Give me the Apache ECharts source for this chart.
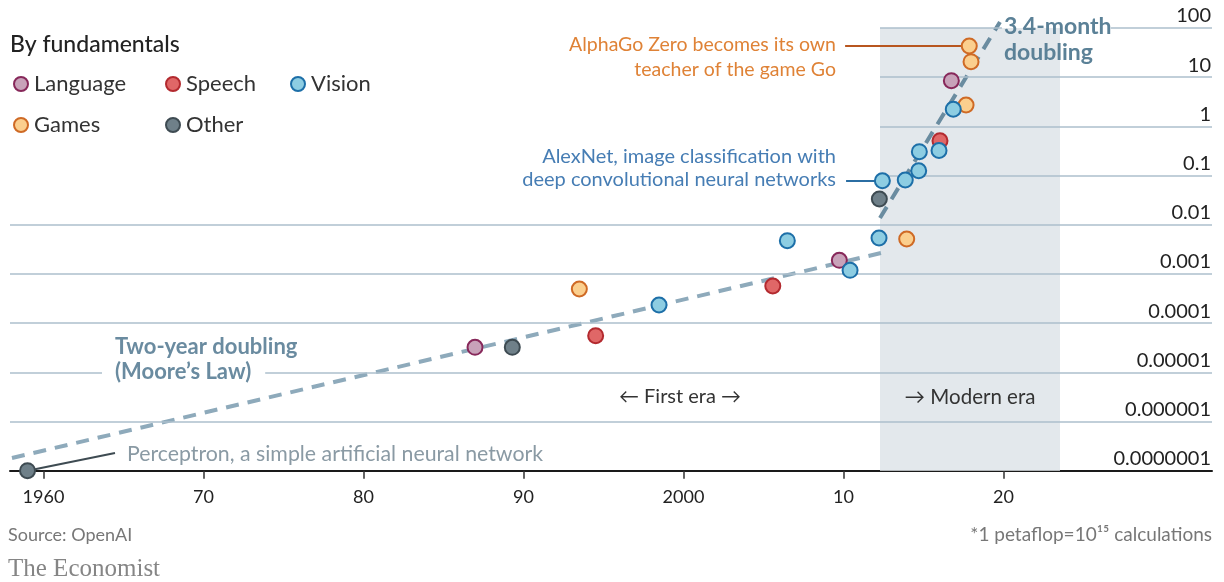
<!DOCTYPE html>
<html><head><meta charset="utf-8">
<script src="https://cdn.jsdelivr.net/npm/echarts@6/dist/echarts.min.js"></script>
<style>html,body{margin:0;padding:0;background:#fff}#c{width:1224px;height:582px}</style>
</head><body><div id="c"></div>
<script>
// ---------- data ----------
const categories = ['Language', 'Speech', 'Vision', 'Games', 'Other'];
const languageYear = [1986.97, 2009.74, 2016.74];
const languagePF   = [3.22e-5, 1.89e-3, 8.45];
const speechYear   = [1994.51, 2005.58, 2016.03];
const speechPF     = [5.55e-5, 5.67e-4, 0.509];
const visionYear   = [1998.47, 2006.49, 2010.41, 2012.22, 2012.43, 2013.86, 2014.70, 2014.74, 2015.97, 2016.86];
const visionPF     = [2.33e-4, 4.73e-3, 1.18e-3, 5.37e-3, 0.0783, 0.0811, 0.125, 0.305, 0.322, 2.22];
const gamesYear    = [1993.49, 2013.95, 2017.66, 2017.97, 2017.86];
const gamesPF      = [4.93e-4, 5.12e-3, 2.71, 20.6, 42.9];
const otherYear    = [1959.0, 1989.30, 2012.24];
const otherPF      = [1.0e-7, 3.22e-5, 0.0333];
const mooreYear    = [1958.03, 2012.34];
const moorePF      = [1.81e-7, 2.66e-3];
const steepYear    = [2012.28, 2019.78];
const steepPF      = [0.01368, 131.8];
const modernEra    = [2012.28, 2023.53];
const xTickValues  = [1960, 1970, 1980, 1990, 2000, 2010, 2020];
const xTickLabels  = ['1960', '70', '80', '90', '2000', '10', '20'];
const yTickValues  = [1e-7, 1e-6, 1e-5, 1e-4, 1e-3, 1e-2, 1e-1, 1, 10, 100];
const yTickLabels  = ['0.0000001', '0.000001', '0.00001', '0.0001', '0.001', '0.01', '0.1', '1', '10', '100'];

// ---------- styling ----------
const FONT = 'Lato, "Open Sans", sans-serif';
const X_MIN = 1957.906, X_MAX = 2033.031;
const Y_MIN = 1e-7, Y_MAX = Math.pow(10, 2.567);
const colors = {
  Language: { fill: '#c8a2b9', border: '#87285a' },
  Speech:   { fill: '#e06767', border: '#b32a2f' },
  Vision:   { fill: '#8dcde2', border: '#1d6fa8' },
  Games:    { fill: '#fbcf8e', border: '#cf6a25' },
  Other:    { fill: '#6f8089', border: '#3e4b52' }
};
const pts = {
  Language: [languageYear, languagePF],
  Speech: [speechYear, speechPF],
  Vision: [visionYear, visionPF],
  Games: [gamesYear, gamesPF],
  Other: [otherYear, otherPF]
};
const zip = (a, b) => a.map((v, i) => [v, b[i]]);

const gridColor = '#adbfcc';
function hline(y, x0, x1) {
  return [{ coord: [x0, y] }, { coord: [x1, y] }];
}
const gridLines = [];
yTickValues.forEach(v => {
  if (v === 1e-7) return;
  if (v <= 1e-2) gridLines.push(hline(v, X_MIN, X_MAX));
  else if (v < 100) gridLines.push(hline(v, modernEra[0], X_MAX));
  else {
    gridLines.push(hline(v, modernEra[0], 2019.9));
    gridLines.push(hline(v, 2026.7, X_MAX));
  }
});

const drawOrder = ['Language', 'Speech', 'Games', 'Other', 'Vision'];
const scatterSeries = drawOrder.map((name, i) => ({
  name, type: 'scatter', symbol: 'circle', symbolSize: 15, z: 10 + i,
  itemStyle: { color: colors[name].fill, borderColor: colors[name].border, borderWidth: 2, opacity: 1 },
  emphasis: { disabled: true },
  data: zip(pts[name][0], pts[name][1])
}));

const legendPos = {
  Language: [13, 73], Speech: [165, 73], Vision: [290, 73],
  Games: [13, 114], Other: [165, 114]
};
const legends = categories.map(name => ({
  data: [name], left: legendPos[name][0], top: legendPos[name][1], padding: 0,
  icon: 'circle', itemWidth: 14, itemHeight: 14, itemGap: 0, selectedMode: false,
  textStyle: { fontFamily: FONT, fontSize: 22, color: '#333', padding: [0, 0, 0, 1] }
}));

const chart = echarts.init(document.getElementById('c'), null, { renderer: 'canvas' });
chart.setOption({
  animation: false,
  backgroundColor: '#fff',
  grid: { left: 10, right: 12, top: 0, bottom: 111.3 },
  legend: legends,
  xAxis: {
    type: 'value', min: X_MIN, max: X_MAX,
    axisLine: { show: true, onZero: false, lineStyle: { color: '#1a1a1a', width: 2 } },
    axisTick: { show: true, customValues: xTickValues, length: 8, lineStyle: { color: '#333', width: 1.5 } },
    axisLabel: {
      customValues: xTickValues, margin: 17, fontFamily: FONT, fontSize: 18, color: '#222',
      formatter: v => xTickLabels[xTickValues.indexOf(Math.round(v))] || ''
    },
    splitLine: { show: false }
  },
  yAxis: {
    type: 'log', logBase: 10, min: Y_MIN, max: Y_MAX, position: 'right',
    axisLine: { show: false }, axisTick: { show: false }, splitLine: { show: false },
    axisLabel: {
      customValues: yTickValues, inside: true, margin: 1, fontFamily: FONT, fontSize: 20, color: '#222',
      verticalAlign: 'bottom', lineHeight: 20, padding: [0, 0, 2, 0],
      formatter: v => { const i = Math.round(Math.log10(v)) + 7; return yTickLabels[i] || ''; }
    }
  },
  series: [
    {
      name: 'bg', type: 'scatter', data: [], z: 1, silent: true,
      markArea: {
        silent: true, itemStyle: { color: '#e3e8ec' },
        data: [[{ coord: [modernEra[0], 1e-7] }, { coord: [modernEra[1], 100] }]]
      },
      markLine: {
        silent: true, symbol: ['none', 'none'], label: { show: false },
        lineStyle: { color: gridColor, width: 1.6, type: 'solid' },
        emphasis: { disabled: true },
        data: gridLines
      }
    },
    {
      name: 'moore', type: 'line', z: 3, silent: true, symbol: 'none',
      lineStyle: { color: '#8eaabb', width: 4, type: [13, 9] },
      data: zip(mooreYear, moorePF)
    },
    {
      name: 'steep', type: 'line', z: 3, silent: true, symbol: 'none',
      lineStyle: { color: '#6a8ca0', width: 4, type: [13, 9] },
      data: zip(steepYear, steepPF)
    },
    {
      name: 'leaders', type: 'scatter', data: [], z: 4, silent: true,
      markLine: {
        silent: true, symbol: ['none', 'none'], label: { show: false },
        emphasis: { disabled: true },
        data: [
          [{ coord: [2010.1, gamesPF[4]], lineStyle: { color: '#b8561f', width: 2, type: 'solid' } }, { coord: [gamesYear[4], gamesPF[4]] }],
          [{ coord: [2010.16, visionPF[4]], lineStyle: { color: '#2b6ea3', width: 2, type: 'solid' } }, { coord: [visionYear[4], visionPF[4]] }],
          [{ coord: [otherYear[0], otherPF[0]], lineStyle: { color: '#3e4b52', width: 2, type: 'solid' } }, { coord: [1964.47, 2.29e-7] }]
        ]
      }
    }
  ].concat(scatterSeries),
  graphic: [
    { type: 'text', x: 10, y: 45, style: { text: 'By fundamentals', font: '500 23px ' + FONT, fill: '#222', textAlign: 'left', align: 'left', textVerticalAlign: 'middle', verticalAlign: 'middle' } },
    { type: 'text', x: 836, y: 57.5, z: 20, style: { text: 'AlphaGo Zero becomes its own\nteacher of the game Go', font: '19.5px ' + FONT, fill: '#df8236', lineHeight: 25, textAlign: 'right', align: 'right', textVerticalAlign: 'middle', verticalAlign: 'middle' } },
    { type: 'text', x: 836, y: 168.5, z: 20, style: { text: 'AlexNet, image classification with\ndeep convolutional neural networks', font: '20px ' + FONT, fill: '#467db4', lineHeight: 23, textAlign: 'right', align: 'right', textVerticalAlign: 'middle', verticalAlign: 'middle' } },
    { type: 'text', x: 1004, y: 40, z: 20, style: { text: '3.4-month\ndoubling', font: 'bold 23px ' + FONT, fill: '#5b8197', lineHeight: 26, textAlign: 'left', align: 'left', textVerticalAlign: 'middle', verticalAlign: 'middle' } },
    { type: 'text', x: 115, y: 347, z: 20, style: { text: 'Two-year doubling', font: 'bold 22px ' + FONT, fill: '#6a8ba0', textAlign: 'left', align: 'left', textVerticalAlign: 'middle', verticalAlign: 'middle' } },
    { type: 'text', x: 102, y: 372, z: 20, style: { text: '(Moore\u2019s Law)', font: 'bold 22px ' + FONT, fill: '#6a8ba0', backgroundColor: '#fff', padding: [2, 14, 2, 13], textAlign: 'left', align: 'left', textVerticalAlign: 'middle', verticalAlign: 'middle' } },
    { type: 'text', x: 127, y: 454, z: 20, style: { text: 'Perceptron, a simple artificial neural network', font: '21.3px ' + FONT, fill: '#8a9aa4', textAlign: 'left', align: 'left', textVerticalAlign: 'middle', verticalAlign: 'middle' } },
    { type: 'text', x: 680, y: 397, z: 20, style: { text: '\u2190 First era \u2192', font: '20px ' + FONT, fill: '#333', textAlign: 'center', align: 'center', textVerticalAlign: 'middle', verticalAlign: 'middle' } },
    { type: 'text', x: 970, y: 397, z: 20, style: { text: '\u2192 Modern era', font: '20.5px ' + FONT, fill: '#333', textAlign: 'center', align: 'center', textVerticalAlign: 'middle', verticalAlign: 'middle' } },
    { type: 'text', x: 8, y: 535, style: { text: 'Source: OpenAI', font: '18px ' + FONT, fill: '#777', textAlign: 'left', align: 'left', textVerticalAlign: 'middle', verticalAlign: 'middle' } },
    { type: 'text', x: 1212, y: 535, style: { text: '*1 petaflop=10\u00b9\u2075 calculations', font: '19px ' + FONT, fill: '#777', textAlign: 'right', align: 'right', textVerticalAlign: 'middle', verticalAlign: 'middle' } },
    { type: 'text', x: 8, y: 569, style: { text: 'The Economist', font: '25px "Liberation Serif", "DejaVu Serif", serif', fill: '#858585', textAlign: 'left', align: 'left', textVerticalAlign: 'middle', verticalAlign: 'middle' } }
  ]
});
</script>
</body></html>
